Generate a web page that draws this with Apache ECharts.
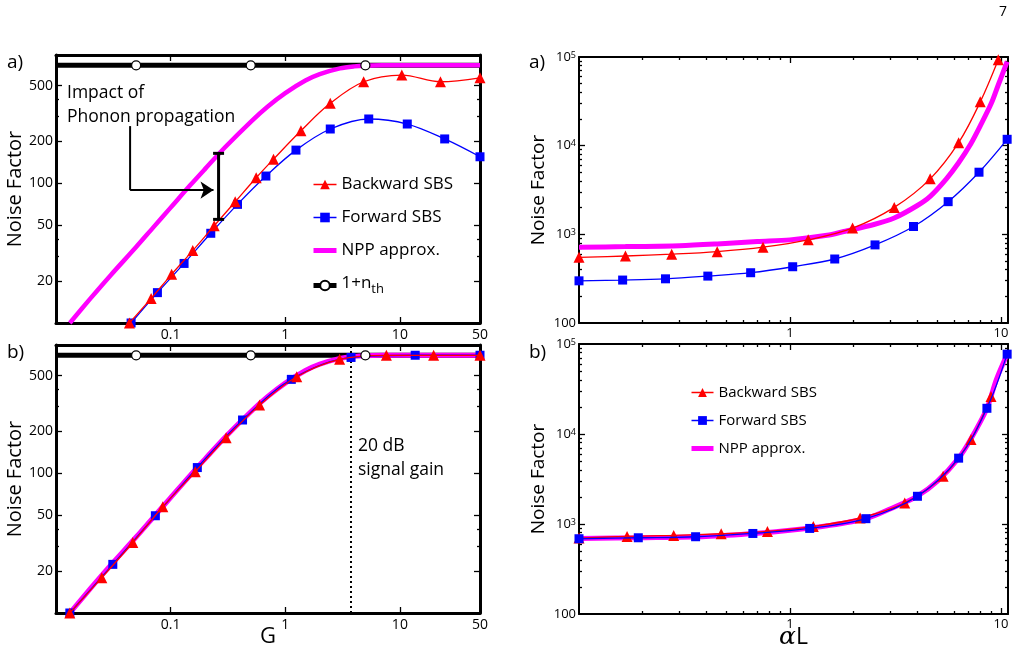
<!DOCTYPE html>
<html>
<head>
<meta charset="utf-8">
<script src="https://cdn.jsdelivr.net/npm/echarts@6/dist/echarts.min.js"></script>
<style>html,body{margin:0;padding:0;background:#fff;}#c{width:1021px;height:651px;}</style>
</head>
<body>
<div id="c"></div>
<script>
// ---------- DATA ----------
// Left column (x = G)
const nthValue = 700;
const nthMarkG = [0.05, 0.5, 5];
const nthRangeG = [0.01, 50];

const nppG_a = [0.0132, 0.02, 0.03, 0.05, 0.07, 0.1, 0.15, 0.2, 0.3, 0.5, 0.7, 1, 1.5, 2, 3, 4, 5, 7, 10, 20, 50];
const nppNF_a = [10, 15, 22, 35, 48, 67, 98, 127, 182, 276, 354, 443, 545, 606, 666, 688, 696, 700, 701, 701, 701];

const bwdG_a = [0.0437, 0.0676, 0.102, 0.156, 0.24, 0.366, 0.558, 0.79, 1.37, 2.47, 4.83, 10.4, 22.6, 50];
const bwdNF_a = [10, 15.0, 22.3, 33, 49.7, 73.8, 109.7, 149, 238, 374, 534, 596, 534, 570];

const fwdG_a = [0.0452, 0.0767, 0.131, 0.224, 0.383, 0.678, 1.24, 2.47, 5.35, 11.6, 24.6, 50];
const fwdNF_a = [10, 16.5, 26.7, 43.9, 70.7, 112.8, 173, 245, 289, 266, 208, 155];

const nppG_b = [0.0132, 0.02, 0.03, 0.05, 0.07, 0.1, 0.15, 0.2, 0.3, 0.5, 0.7, 1, 1.5, 2, 3, 4, 5, 7, 10, 20, 50];
const nppNF_b = [10, 15, 22, 35, 48, 67, 98, 127, 182, 276, 354, 443, 545, 606, 666, 688, 696, 700, 701, 701, 701];

const bwdG_b = [0.0132, 0.0251, 0.0468, 0.0855, 0.164, 0.305, 0.597, 1.26, 2.98, 7.62, 19.7, 50];
const bwdNF_b = [10, 17.9, 32, 57.7, 102.7, 180, 308, 492, 655, 700, 700, 700];

const fwdG_b = [0.0132, 0.0313, 0.0736, 0.171, 0.424, 1.13, 3.75, 13.6, 50];
const fwdNF_b = [10, 22.3, 49.7, 110, 241, 471, 676, 701, 701];

const gain20dB_G = 3.7;

// Impact annotation (data coordinates, left panel a)
const arrowG = [0.0443, 0.0443, 0.2366];
const arrowNF = [257, 89.5, 89.5];
const errBarG = 0.262;
const errBarNF = [164, 55.2];

// Right column (x = alpha L)
const nppAL_a = [0.1, 0.166, 0.3, 0.452, 0.7, 1, 1.5, 1.8, 2.5, 3.12, 4, 4.62, 5.5, 6.3, 7.2, 7.98, 9, 9.68, 10.7];
const nppNF_ra = [716, 727, 745, 780, 830, 866, 975, 1076, 1290, 1527, 2100, 2683, 4200, 6410, 10500, 16700, 30000, 47400, 88700];

const bwdAL_a = [0.1, 0.166, 0.275, 0.452, 0.745, 1.22, 1.98, 3.12, 4.62, 6.30, 7.98, 9.71];
const bwdNF_ra = [551, 570, 597, 638, 716, 866, 1175, 2013, 4225, 10810, 31200, 93300];

const fwdAL_a = [0.1, 0.161, 0.257, 0.408, 0.651, 1.03, 1.63, 2.53, 3.85, 5.62, 7.87, 10.7];
const fwdNF_ra = [299, 305, 315, 338, 369, 431, 527, 760, 1226, 2336, 5020, 11800];

const nppAL_b = [0.1, 0.2, 0.4, 0.7, 1, 1.5, 2.3, 3, 4, 5, 6.3, 7.2, 8.6, 9.5, 10.7];
const nppNF_rb = [690, 703, 725, 787, 850, 955, 1150, 1480, 2030, 3000, 5400, 8800, 19500, 40000, 77000];

const bwdAL_b = [0.1, 0.169, 0.281, 0.472, 0.782, 1.29, 2.15, 3.50, 5.32, 7.21, 8.97];
const bwdNF_rb = [698, 728, 746, 779, 827, 940, 1166, 1714, 3395, 8710, 26100];

const fwdAL_b = [0.1, 0.191, 0.357, 0.667, 1.24, 2.29, 4.02, 6.30, 8.58, 10.7];
const fwdNF_rb = [686, 703, 722, 785, 893, 1146, 2032, 5390, 19300, 77100];

// Tick labels / tick positions
const leftXLabels = [0.1, 1, 10, 50];
const leftXMajor = [0.1, 1, 10];
const leftXMinor = [];
const leftYLabels = [20, 50, 100, 200, 500];
const leftYMajor = [20, 50, 100, 200, 500];
const leftYMinor = [30, 40, 300, 400];
const rightXLabels = [1, 10];
const rightXMajor = [1, 10];
const rightXMinor = [0.2, 0.3, 0.4, 0.5, 0.6, 0.7, 0.8, 0.9, 2, 3, 4, 5, 6, 7, 8, 9];
const rightYLabels = [100, 1000, 10000, 100000];
const rightYMajor = [1000, 10000];
const rightYMinor = [200, 300, 400, 500, 600, 700, 800, 900, 2000, 3000, 4000, 5000, 6000, 7000, 8000, 9000, 20000, 30000, 40000, 50000, 60000, 70000, 80000, 90000];

// ---------- CHART ----------
const FONT = '"Open Sans", "Noto Sans", sans-serif';
const zip = (xs, ys) => xs.map((x, i) => [x, ys[i]]);

function axisSet(dim, gi, cfg) {
  const posA = dim === 'x' ? 'bottom' : 'left';
  const posB = dim === 'x' ? 'top' : 'right';
  const base = {type: 'log', logBase: 10, gridIndex: gi, min: cfg.min, max: cfg.max,
    splitLine: {show: false}, minorTick: {show: false}, axisPointer: {show: false}};
  const line = {show: true, onZero: false, lineStyle: {color: '#000', width: cfg.lw}};
  const noLine = {show: false, onZero: false};
  const tick = (vals, len) => vals.length ? {show: true, inside: true, length: len, customValues: vals, lineStyle: {color: '#000', width: 1.3}} : {show: false};
  return [
    Object.assign({}, base, {position: posA, axisLine: line, axisTick: tick(cfg.major, 6),
      axisLabel: {show: true, customValues: cfg.labels, formatter: cfg.fmt, fontSize: cfg.fs, color: '#000',
        fontFamily: FONT, margin: cfg.margin, rich: cfg.rich || {}},
      name: cfg.name || '', nameLocation: 'middle', nameGap: cfg.nameGap || 20, nameMoveOverlap: false,
      nameTextStyle: cfg.nameStyle || {}}),
    Object.assign({}, base, {position: posB, axisLine: line, axisTick: tick(cfg.major, 6), axisLabel: {show: false}}),
    Object.assign({}, base, {position: posA, axisLine: noLine, axisTick: tick(cfg.minor, 3), axisLabel: {show: false}}),
    Object.assign({}, base, {position: posB, axisLine: noLine, axisTick: tick(cfg.minor, 3), axisLabel: {show: false}})
  ];
}

const numFmt = v => String(+(+v).toPrecision(6));
const powFmt = v => { const e = Math.round(Math.log10(v)); return e === 2 ? '100' : '10{s|' + e + '}'; };
const supRich = {s: {fontSize: 9, verticalAlign: 'top', fontFamily: FONT, color: '#000'}};
const yNameStyle = fs => ({fontSize: fs, fontFamily: FONT, color: '#000'});

const grids = [
  {left: 56, top: 55, width: 424, height: 268},
  {left: 56, top: 345, width: 424, height: 268},
  {left: 579, top: 57, width: 429, height: 266},
  {left: 579, top: 344, width: 429, height: 270}
].map(g => Object.assign({outerBoundsMode: 'none', containLabel: false}, g));

const leftX = (gi, name) => axisSet('x', gi, {min: 0.01, max: 50, lw: 3, labels: leftXLabels, major: leftXMajor, minor: leftXMinor,
  fmt: numFmt, fs: 14, margin: 5, name: name, nameGap: 13, nameStyle: {fontSize: 22, fontFamily: FONT, color: '#000'}});
const leftY = gi => axisSet('y', gi, {min: 10, max: 830, lw: 3, labels: leftYLabels, major: leftYMajor, minor: leftYMinor,
  fmt: numFmt, fs: 14, margin: 3, name: 'Noise Factor', nameGap: 31, nameStyle: yNameStyle(20)});
const rightX = (gi, name) => axisSet('x', gi, {min: 0.1, max: 10.8, lw: 2, labels: rightXLabels, major: rightXMajor, minor: rightXMinor,
  fmt: numFmt, fs: 13, margin: 4, name: name, nameGap: 11,
  nameStyle: {fontSize: 23, fontFamily: FONT, color: '#000', rich: {a: {fontSize: 25, fontStyle: 'italic', fontFamily: '"DejaVu Serif", serif', color: '#000'}}}});
const rightY = gi => axisSet('y', gi, {min: 100, max: 100000, lw: 2, labels: rightYLabels, major: rightYMajor, minor: rightYMinor,
  fmt: powFmt, fs: 13, margin: 3, rich: supRich, name: 'Noise Factor', nameGap: 31, nameStyle: yNameStyle(19)});

const xAxes = [].concat(leftX(0, ''), leftX(1, 'G'), rightX(2, ''), rightX(3, '{a|α}L'));
const yAxes = [].concat(leftY(0), leftY(1), rightY(2), rightY(3));

const RED = '#ff0000', BLUE = '#0000ff', MAG = '#ff00ff';

function nthLine(gi, extra) {
  return Object.assign({
    name: '1+n_th', type: 'line', xAxisIndex: gi * 4, yAxisIndex: gi * 4,
    data: nthRangeG.map(g => ({value: [g, nthValue], symbol: 'none'})),
    symbol: 'circle', symbolSize: 8, lineStyle: {color: '#000', width: 5},
    itemStyle: {color: '#fff', borderColor: '#000', borderWidth: 1.2, opacity: 1}, z: 2, silent: true, animation: false
  }, extra || {});
}
function nthMarks(gi) {
  return {name: 'nthMarks', type: 'scatter', xAxisIndex: gi * 4, yAxisIndex: gi * 4,
    data: nthMarkG.map(g => [g, nthValue]), symbol: 'circle', symbolSize: 9,
    itemStyle: {color: '#fff', borderColor: '#000', borderWidth: 1.2, opacity: 1}, z: 6, silent: true, animation: false};
}
function npp(gi, xs, ys, w) {
  return {name: 'NPP approx.', type: 'line', xAxisIndex: gi * 4, yAxisIndex: gi * 4, data: zip(xs, ys),
    symbol: 'none', smooth: 0.3, lineStyle: {color: MAG, width: w}, itemStyle: {color: MAG}, z: 3, silent: true, animation: false};
}
function bwd(gi, xs, ys, z) {
  return {name: 'Backward SBS', type: 'line', xAxisIndex: gi * 4, yAxisIndex: gi * 4, data: zip(xs, ys),
    symbol: 'triangle', symbolSize: 11, showAllSymbol: true, smooth: 0.35, lineStyle: {color: RED, width: 1.3},
    itemStyle: {color: RED}, z: z, silent: true, animation: false};
}
function fwd(gi, xs, ys, z) {
  return {name: 'Forward SBS', type: 'line', xAxisIndex: gi * 4, yAxisIndex: gi * 4, data: zip(xs, ys),
    symbol: 'rect', symbolSize: 9, showAllSymbol: true, smooth: 0.35, lineStyle: {color: BLUE, width: 1.3},
    itemStyle: {color: BLUE}, z: z, silent: true, animation: false};
}

const series = [
  // Left a
  bwd(0, bwdG_a, bwdNF_a, 5), fwd(0, fwdG_a, fwdNF_a, 4), npp(0, nppG_a, nppNF_a, 4.5), nthLine(0), nthMarks(0),
  {name: 'errbar', type: 'line', xAxisIndex: 0, yAxisIndex: 0, data: errBarNF.map(v => [errBarG, v]),
    symbol: 'rect', symbolSize: [11, 3], lineStyle: {color: '#000', width: 3}, itemStyle: {color: '#000'}, z: 7, silent: true, animation: false},
  {name: 'arrowStem', type: 'line', xAxisIndex: 0, yAxisIndex: 0, data: zip(arrowG.slice(0, 2), arrowNF.slice(0, 2)),
    symbol: 'none', lineStyle: {color: '#000', width: 2}, z: 7, silent: true, animation: false},
  {name: 'arrowHead', type: 'lines', coordinateSystem: 'cartesian2d', xAxisIndex: 0, yAxisIndex: 0,
    data: [{coords: zip(arrowG.slice(1), arrowNF.slice(1))}], symbol: ['none', 'arrow'], symbolSize: [9, 13],
    lineStyle: {color: '#000', width: 2, opacity: 1, curveness: 0}, z: 7, silent: true, animation: false},
  // Left b
  nthLine(1, {markLine: {silent: true, symbol: 'none', z: 1, label: {show: false},
    lineStyle: {color: '#000', type: [2, 3], width: 2}, data: [{xAxis: gain20dB_G}], animation: false}}),
  npp(1, nppG_b, nppNF_b, 5), nthMarks(1), fwd(1, fwdG_b, fwdNF_b, 4), bwd(1, bwdG_b, bwdNF_b, 5),
  // Right a
  npp(2, nppAL_a, nppNF_ra, 5), bwd(2, bwdAL_a, bwdNF_ra, 4), fwd(2, fwdAL_a, fwdNF_ra, 5),
  // Right b
  npp(3, nppAL_b, nppNF_rb, 5), bwd(3, bwdAL_b, bwdNF_rb, 4), fwd(3, fwdAL_b, fwdNF_rb, 5)
];

const legendText = fs => ({fontSize: fs, fontFamily: FONT, color: '#000',
  rich: {b: {fontSize: fs, fontFamily: FONT, color: '#000', verticalAlign: 'top'},
         sub: {fontSize: fs - 4, fontFamily: FONT, color: '#000', verticalAlign: 'bottom', padding: [8, 0, 0, 0]}}});
const legendItems = names => names.map(n => {
  if (n === 'NPP approx.') return {name: n, lineStyle: {width: 5}, itemStyle: {opacity: 0}};
  if (n === '1+n_th') return {name: n, lineStyle: {width: 5}};
  return {name: n, lineStyle: {width: 1.5}};
});

const option = {
  backgroundColor: '#fff',
  animation: false,
  textStyle: {fontFamily: FONT},
  grid: grids,
  xAxis: xAxes,
  yAxis: yAxes,
  legend: [
    {data: legendItems(['Backward SBS', 'Forward SBS', 'NPP approx.', '1+n_th']), orient: 'vertical', left: 311, top: 176,
      itemWidth: 23, itemHeight: 12, itemGap: 16, selectedMode: false, padding: 0,
      formatter: n => n === '1+n_th' ? '{b|1+n}{sub|th}' : n, textStyle: legendText(17)},
    {data: legendItems(['Backward SBS', 'Forward SBS', 'NPP approx.']), orient: 'vertical', left: 689, top: 385,
      itemWidth: 22, itemHeight: 11, itemGap: 13, selectedMode: false, padding: 0, textStyle: legendText(15)}
  ],
  graphic: [
    {type: 'text', x: 1003, y: 12, style: {text: '7', fontSize: 14, fontFamily: FONT, fill: '#000', align: 'center', verticalAlign: 'middle'}},
    {type: 'text', x: 7, y: 63, style: {text: 'a)', fontSize: 19, fontFamily: FONT, fill: '#000', align: 'left', verticalAlign: 'middle'}},
    {type: 'text', x: 7, y: 353, style: {text: 'b)', fontSize: 19, fontFamily: FONT, fill: '#000', align: 'left', verticalAlign: 'middle'}},
    {type: 'text', x: 529, y: 63, style: {text: 'a)', fontSize: 19, fontFamily: FONT, fill: '#000', align: 'left', verticalAlign: 'middle'}},
    {type: 'text', x: 529, y: 353, style: {text: 'b)', fontSize: 19, fontFamily: FONT, fill: '#000', align: 'left', verticalAlign: 'middle'}},
    {type: 'text', x: 67, y: 93, style: {text: 'Impact of', fontSize: 17.5, fontFamily: FONT, fill: '#000', align: 'left', verticalAlign: 'middle'}},
    {type: 'text', x: 67, y: 117, style: {text: 'Phonon propagation', fontSize: 17.5, fontFamily: FONT, fill: '#000', align: 'left', verticalAlign: 'middle'}},
    {type: 'text', x: 358, y: 446, style: {text: '20 dB', fontSize: 17.5, fontFamily: FONT, fill: '#000', align: 'left', verticalAlign: 'middle'}},
    {type: 'text', x: 358, y: 470, style: {text: 'signal gain', fontSize: 17.5, fontFamily: FONT, fill: '#000', align: 'left', verticalAlign: 'middle'}}
  ],
  series: series
};

const chart = echarts.init(document.getElementById('c'), null, {renderer: 'canvas'});
chart.setOption(option);
</script>
</body>
</html>
